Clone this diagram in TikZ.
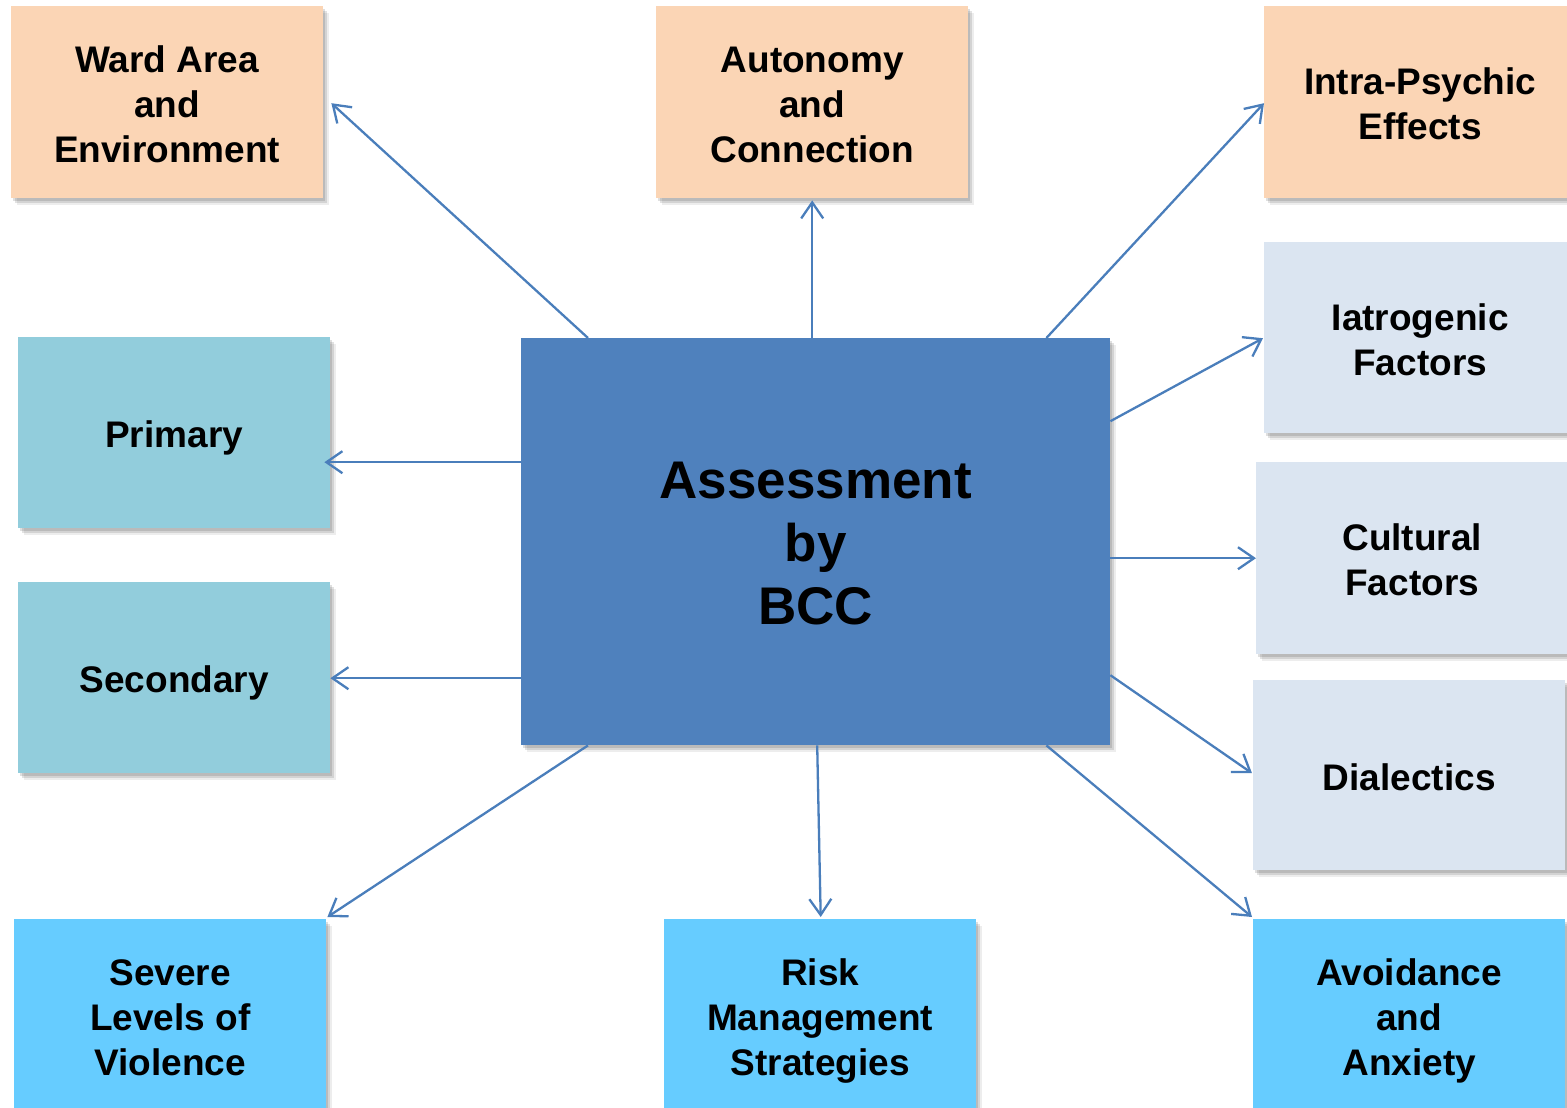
\documentclass[tikz,border=0pt]{standalone}
\usepackage{fontspec}
\setmainfont{Liberation Sans}
\usetikzlibrary{arrows.meta,shadows,calc}
\definecolor{peach}{HTML}{FBD5B5}
\definecolor{paleblue}{HTML}{DBE5F1}
\definecolor{tealbox}{HTML}{92CDDC}
\definecolor{sky}{HTML}{66CCFF}
\definecolor{mainblue}{HTML}{4F81BD}
\definecolor{arrowblue}{HTML}{4A7EBB}
\newcommand\tstr{\rule{0pt}{1.03em}}
\newcommand\bstr{\rule[-0.22em]{0pt}{0pt}}
\begin{document}
\begin{tikzpicture}[x=1pt,y=-1pt,
  box/.style={draw=none, minimum width=312pt, minimum height=192pt, anchor=north west,
    align=center, inner sep=0pt, font=\fontsize{37}{45}\selectfont\bfseries,
    drop shadow={shadow xshift=2pt, shadow yshift=-3pt, opacity=0.18, fill=black!70},
    drop shadow={shadow xshift=4pt, shadow yshift=-5pt, opacity=0.16, fill=black!70},
    drop shadow={shadow xshift=6pt, shadow yshift=-7pt, opacity=0.10, fill=black!70}},
  arr/.style={draw=arrowblue, line width=2.3pt, -{Straight Barb[length=16pt,width=22pt]}}]
\path[use as bounding box] (0,0) rectangle (1567,1108);
\clip (0,0) rectangle (1567,1108);
% top row
\node[box, fill=peach] (ward) at (11,6) {\tstr Ward Area\\and\\Environment\bstr};
\node[box, fill=peach] (auto) at (656,6) {\tstr Autonomy\\and\\Connection\bstr};
\node[box, fill=peach] (intra) at (1264,6) {\tstr Intra-Psychic\\Effects\bstr};
% right column
\node[box, fill=paleblue, minimum height=191pt] (iatro) at (1264,242) {\tstr Iatrogenic\\Factors\bstr};
\node[box, fill=paleblue] (cult) at (1256,462) {\tstr Cultural\\Factors\bstr};
\node[box, fill=paleblue, minimum height=190pt] (dial) at (1253,680) {\tstr Dialectics\bstr};
% left column
\node[box, fill=tealbox, minimum height=191pt] (prim) at (18,337) {\tstr Primary\bstr};
\node[box, fill=tealbox, minimum height=191pt] (sec) at (18,582) {\tstr Secondary\bstr};
% bottom row
\node[box, fill=sky] (sev) at (14,919) {\tstr Severe\\Levels of\\Violence\bstr};
\node[box, fill=sky] (risk) at (664,919) {\tstr Risk\\Management\\Strategies\bstr};
\node[box, fill=sky] (avoid) at (1253,919) {\tstr Avoidance\\and\\Anxiety\bstr};
% centre
\node[box, fill=mainblue, minimum width=589pt, minimum height=407pt,
  font=\fontsize{53}{63}\selectfont\bfseries] (c) at (521,338) {\rule{0pt}{0.98em}Assessment\\by\\BCC\bstr};
% connectors
\draw[arr] ([xshift=67pt]c.north west) -- ([xshift=8pt,yshift=-1pt]ward.east);
\draw[arr] (c.north -| auto.south) -- ([yshift=-2pt]auto.south);
\draw[arr] ([xshift=-64pt]c.north east) -- ([yshift=-1pt]intra.west);
\draw[arr] ([yshift=120.5pt]c.east) -- ([xshift=-1pt,yshift=-0.5pt]iatro.west);
\draw[arr] ([yshift=79.5pt]c.west) -- ([xshift=-6pt,yshift=-29.5pt]prim.east);
\draw[arr] ([yshift=-16.5pt]c.east) -- (cult.west);
\draw[arr] ([yshift=-136.5pt]c.west) -- ([yshift=-0.5pt]sec.east);
\draw[arr] ([yshift=-133.5pt]c.east) -- ([xshift=-1pt,yshift=2pt]dial.west);
\draw[arr] ([xshift=67pt]c.south west) -- ([xshift=1pt,yshift=2pt]sev.north east);
\draw[arr] ([xshift=1.5pt]c.south) -- ([xshift=0.5pt,yshift=2pt]risk.north);
\draw[arr] ([xshift=-64pt]c.south east) -- ([xshift=-1pt,yshift=2pt]avoid.north west);
\end{tikzpicture}
\end{document}
